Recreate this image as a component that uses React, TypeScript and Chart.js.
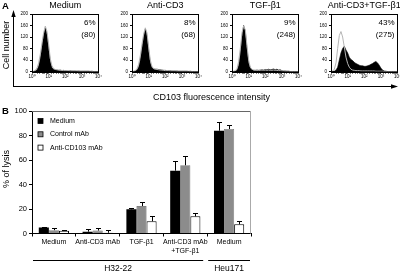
import React, { useEffect, useRef } from "react";
import { Chart, registerables } from "chart.js";
Chart.register(...registerables);

const FONT = '"Liberation Sans", Arial, Helvetica, sans-serif';

// ---------- Panel A: flow cytometry histograms ----------
const histBins = [
  1, 1.26, 1.58, 2, 2.51, 3.16, 3.98, 5.01, 6.31, 7.94,
  10, 12.6, 15.8, 20, 25.1, 31.6, 39.8, 50.1, 63.1, 79.4,
  100, 126, 158, 200, 251, 316, 398, 501, 631, 794,
  1000, 1259, 1585, 1995, 2512, 3162, 3981, 5012, 6310, 7943,
  10000,
];
const histTitles = ["Medium", "Anti-CD3", "TGF-β1", "Anti-CD3+TGF-β1"];
const histPercents = ["6%", "8%", "9%", "43%"];
const histMfi = ["(80)", "(68)", "(248)", "(275)"];

const stainMedium = [0, 0, 2, 6, 18, 45, 85, 125, 152, 130, 80, 35, 14, 8, 6, 5, 4, 5, 3, 4, 3, 3, 2, 3, 2, 2, 2, 1, 2, 1, 1, 1, 1, 1, 1, 0, 1, 0, 0, 0, 0];
const ctrlMedium = [0, 1, 4, 12, 30, 60, 100, 135, 158, 140, 95, 45, 20, 10, 7, 6, 5, 4, 4, 3, 3, 3, 3, 2, 2, 2, 2, 2, 1, 1, 1, 1, 1, 1, 1, 1, 0, 0, 0, 0, 0];
const stainAntiCD3 = [0, 0, 1, 5, 15, 40, 80, 120, 148, 125, 75, 30, 14, 9, 8, 8, 7, 6, 5, 4, 4, 3, 3, 3, 2, 2, 2, 2, 1, 1, 1, 1, 1, 1, 0, 1, 0, 0, 0, 0, 0];
const ctrlAntiCD3 = [0, 1, 3, 10, 25, 55, 95, 130, 152, 135, 85, 40, 18, 10, 8, 7, 6, 5, 5, 4, 3, 3, 3, 2, 2, 2, 2, 1, 1, 1, 1, 1, 1, 1, 1, 0, 0, 0, 0, 0, 0];
const stainTGF = [0, 0, 0, 4, 20, 60, 120, 160, 140, 80, 30, 12, 6, 4, 4, 5, 4, 5, 6, 5, 7, 6, 8, 6, 7, 9, 6, 8, 5, 6, 3, 2, 2, 1, 1, 0, 0, 0, 0, 0, 0];
const ctrlTGF = [0, 1, 3, 10, 35, 80, 135, 158, 145, 90, 40, 15, 8, 5, 4, 4, 4, 4, 5, 4, 5, 4, 5, 4, 4, 5, 4, 4, 3, 3, 2, 2, 1, 1, 1, 0, 0, 0, 0, 0, 0];
const stainCD3TGF = [0, 0, 1, 5, 15, 40, 65, 80, 88, 75, 65, 50, 42, 38, 32, 28, 25, 22, 20, 20, 18, 18, 20, 22, 25, 28, 32, 35, 30, 22, 12, 5, 2, 1, 0, 0, 0, 0, 0, 0, 0];
const ctrlCD3TGF = [0, 2, 8, 30, 80, 125, 139, 120, 85, 50, 28, 15, 8, 5, 4, 3, 3, 3, 2, 2, 2, 2, 2, 2, 2, 2, 2, 1, 1, 1, 1, 1, 0, 0, 0, 0, 0, 0, 0, 0, 0];

const histStain = [stainMedium, stainAntiCD3, stainTGF, stainCD3TGF];
const histCtrl = [ctrlMedium, ctrlAntiCD3, ctrlTGF, ctrlCD3TGF];
const histLefts = [16, 116, 216, 315];

// ---------- Panel B: % of lysis ----------
const lysisCategories = [["Medium"], ["Anti-CD3 mAb"], ["TGF-β1"], ["Anti-CD3 mAb", "+TGF-β1"], ["Medium"]];
const seriesNames = ["Medium", "Control mAb", "Anti-CD103 mAb"];
const lysisMedium = [4.8, 1.5, 19.7, 51.3, 83.9];
const lysisMediumErr = [0.5, 2.5, 1.2, 8.1, 7.1];
const lysisControl = [2.7, 2.4, 22.4, 55.7, 85.3];
const lysisControlErr = [1.5, 1.8, 3.3, 7.6, 3.0];
const lysisAnti = [2.2, 0.6, 10.0, 14.0, 7.5];
const lysisAntiErr = [0.8, 2.0, 4.0, 2.7, 2.7];
const yTicks = [0, 20, 40, 60, 80, 100];
const cellLineNames = ["H32-22", "Heu171"];
const cellLineSpans = [[0, 3], [4, 4]];

const SUP: Record<string, string> = { "0": "⁰", "1": "¹", "2": "²", "3": "³", "4": "⁴" };

function makeHist(canvas: HTMLCanvasElement, idx: number) {
  const histPlugin = {
    id: "histDecor" + idx,
    afterDraw(chart: any) {
      const { ctx, chartArea } = chart;
      ctx.save();
      ctx.strokeStyle = "#000";
      ctx.lineWidth = 1;
      ctx.strokeRect(Math.round(chartArea.left) + 0.5, Math.round(chartArea.top) + 0.5,
        Math.round(chartArea.right - chartArea.left) - 1, Math.round(chartArea.bottom - chartArea.top));
      ctx.fillStyle = "#000";
      ctx.textBaseline = "middle";
      ctx.textAlign = "center";
      ctx.font = `9px ${FONT}`;
      ctx.fillText(histTitles[idx], (chartArea.left + chartArea.right) / 2, 5.5);
      ctx.textAlign = "right";
      ctx.font = `8px ${FONT}`;
      ctx.fillText(histPercents[idx], chartArea.right - 3, chartArea.top + 8.5);
      ctx.fillText(histMfi[idx], chartArea.right - 3, chartArea.top + 20.5);
      ctx.restore();
    },
  };
  return new Chart(canvas, {
    type: "line",
    data: {
      datasets: [
        {
          label: "control",
          data: histBins.map((b, i) => ({ x: b, y: histCtrl[idx][i] })),
          borderColor: "#b5b5b5",
          borderWidth: 1,
          fill: false,
          pointRadius: 0,
          tension: 0,
          order: 0,
        },
        {
          label: "CD103",
          data: histBins.map((b, i) => ({ x: b, y: histStain[idx][i] })),
          borderColor: "#000",
          backgroundColor: "#000",
          borderWidth: 0.6,
          fill: "origin",
          pointRadius: 0,
          tension: 0,
          order: 1,
        },
      ],
    },
    options: {
      animation: false,
      responsive: false,
      events: [],
      layout: { padding: { top: 14, right: 4, left: 0, bottom: 0 } },
      plugins: { legend: { display: false }, tooltip: { enabled: false } },
      scales: {
        x: {
          type: "logarithmic",
          min: 1,
          max: 10000,
          afterFit: (s: any) => { s.height = 14.5; },
          grid: { drawOnChartArea: false, tickLength: 2, color: "#000" },
          border: { color: "#000", width: 1 },
          ticks: {
            autoSkip: false,
            maxRotation: 0,
            padding: 1,
            color: "#000",
            font: { size: 4.5, family: FONT },
            callback: (v: any) => {
              const l = Math.log10(Number(v));
              if (Math.abs(l - Math.round(l)) < 1e-6) return "10" + SUP[String(Math.round(l))];
              return "";
            },
          },
        },
        y: {
          min: 0,
          max: 200,
          afterFit: (s: any) => { s.width = 16; },
          grid: { drawOnChartArea: false, tickLength: 2, color: "#000" },
          border: { color: "#000", width: 1 },
          ticks: { stepSize: 40, padding: 2, color: "#000", font: { size: 4.5, family: FONT } },
        },
      },
    },
    plugins: [histPlugin],
  } as any);
}

function makeBar(canvas: HTMLCanvasElement) {
  const decor = {
    id: "barDecor",
    afterDatasetsDraw(chart: any) {
      const { ctx } = chart;
      const y = chart.scales.y;
      ctx.save();
      ctx.strokeStyle = "#000";
      ctx.lineWidth = 1;
      chart.data.datasets.forEach((ds: any, di: number) => {
        const meta = chart.getDatasetMeta(di);
        meta.data.forEach((bar: any, i: number) => {
          const v = ds.data[i];
          const e = ds.errors[i];
          const yb = y.getPixelForValue(v);
          const yt = Math.round(y.getPixelForValue(v + e)) + 0.5;
          const x = Math.round(bar.x) + 0.5;
          ctx.beginPath();
          ctx.moveTo(x, yb);
          ctx.lineTo(x, yt);
          ctx.moveTo(x - 2.5, yt);
          ctx.lineTo(x + 2.5, yt);
          ctx.stroke();
        });
      });
      ctx.restore();
    },
    afterDraw(chart: any) {
      const { ctx, chartArea } = chart;
      ctx.save();
      // frame top and right
      ctx.lineWidth = 1;
      ctx.strokeStyle = "#666";
      ctx.beginPath();
      ctx.moveTo(chartArea.left, Math.round(chartArea.top) + 0.5);
      ctx.lineTo(chartArea.right, Math.round(chartArea.top) + 0.5);
      ctx.stroke();
      ctx.strokeStyle = "#aaa";
      ctx.beginPath();
      ctx.moveTo(Math.round(chartArea.right) - 0.5, chartArea.top);
      ctx.lineTo(Math.round(chartArea.right) - 0.5, chartArea.bottom);
      ctx.stroke();
      // legend
      chart.data.datasets.forEach((ds: any, i: number) => {
        const lx = chartArea.left + 6;
        const ly = chartArea.top + 10 + i * 13.3;
        ctx.fillStyle = ds.backgroundColor;
        ctx.fillRect(lx, ly - 2.5, 5, 5);
        ctx.strokeStyle = "#000";
        ctx.lineWidth = 0.8;
        ctx.strokeRect(lx, ly - 2.5, 5, 5);
        ctx.fillStyle = "#000";
        ctx.font = `7px ${FONT}`;
        ctx.textBaseline = "middle";
        ctx.textAlign = "left";
        ctx.fillText(ds.label, lx + 12, ly);
      });
      // cell line groups
      const xs = chart.scales.x;
      const n = chart.data.labels.length;
      const w = (xs.right - xs.left) / n;
      cellLineNames.forEach((name, g) => {
        const [a, b] = cellLineSpans[g];
        const x0 = xs.left + a * w + 1;
        const x1 = xs.left + (b + 1) * w - (g < cellLineNames.length - 1 ? 4 : 1);
        const ly = Math.round(chartArea.bottom + 26.5) + 0.5;
        ctx.strokeStyle = "#000";
        ctx.lineWidth = 1;
        ctx.beginPath();
        ctx.moveTo(x0, ly);
        ctx.lineTo(x1, ly);
        ctx.stroke();
        ctx.fillStyle = "#000";
        ctx.font = `8.5px ${FONT}`;
        ctx.textAlign = "center";
        ctx.textBaseline = "middle";
        ctx.fillText(name, (x0 + x1) / 2, chartArea.bottom + 35);
      });
      ctx.restore();
    },
  };
  return new Chart(canvas, {
    type: "bar",
    data: {
      labels: lysisCategories,
      datasets: [
        { label: seriesNames[0], data: lysisMedium, errors: lysisMediumErr, backgroundColor: "#000", borderColor: "#000", borderWidth: 0 },
        { label: seriesNames[1], data: lysisControl, errors: lysisControlErr, backgroundColor: "#8c8c8c", borderColor: "#555", borderWidth: 0.6 },
        { label: seriesNames[2], data: lysisAnti, errors: lysisAntiErr, backgroundColor: "#fff", borderColor: "#000", borderWidth: 1 },
      ],
    },
    options: {
      animation: false,
      responsive: false,
      events: [],
      layout: { padding: { top: 11, right: 9, left: 0, bottom: 0 } },
      plugins: { legend: { display: false }, tooltip: { enabled: false } },
      datasets: { bar: { categoryPercentage: 0.69, barPercentage: 1.0 } },
      scales: {
        x: {
          afterFit: (s: any) => { s.height = 38.5; },
          grid: { drawOnChartArea: false, offset: true, tickLength: 3, color: "#000" },
          border: { color: "#000", width: 1 },
          ticks: { autoSkip: false, maxRotation: 0, padding: 2, color: "#000", font: { size: 7, family: FONT, lineHeight: 1.15 } },
        },
        y: {
          min: 0,
          max: 100,
          afterFit: (s: any) => { s.width = 32; },
          afterBuildTicks: (s: any) => { s.ticks = yTicks.map((v) => ({ value: v })); },
          grid: { drawOnChartArea: false, tickLength: 3, color: "#000" },
          border: { color: "#000", width: 1 },
          ticks: { padding: 2, color: "#000", font: { size: 7.5, family: FONT } },
        },
      },
    },
    plugins: [decor],
  } as any);
}

export default function App() {
  const h0 = useRef<HTMLCanvasElement>(null);
  const h1 = useRef<HTMLCanvasElement>(null);
  const h2 = useRef<HTMLCanvasElement>(null);
  const h3 = useRef<HTMLCanvasElement>(null);
  const barRef = useRef<HTMLCanvasElement>(null);
  const histRefs = [h0, h1, h2, h3];

  useEffect(() => {
    const charts: Chart[] = [];
    histRefs.forEach((r, i) => { if (r.current) charts.push(makeHist(r.current, i)); });
    if (barRef.current) charts.push(makeBar(barRef.current));
    return () => charts.forEach((c) => c.destroy());
  }, []);

  const txt = (extra: React.CSSProperties): React.CSSProperties => ({
    position: "absolute",
    fontFamily: FONT,
    color: "#000",
    whiteSpace: "nowrap",
    lineHeight: 1,
    ...extra,
  });

  return (
    <div style={{ position: "absolute", left: 0, top: 0, width: 400, height: 272, background: "#fff", overflow: "hidden" }}>
      {histRefs.map((r, i) => (
        <canvas key={i} ref={r} width={87} height={86}
          style={{ position: "absolute", left: histLefts[i], top: 0, width: 87, height: 86 }} />
      ))}
      <canvas ref={barRef} width={260} height={172}
        style={{ position: "absolute", left: 0, top: 100, width: 260, height: 172 }} />
      <svg width={400} height={272} style={{ position: "absolute", left: 0, top: 0, pointerEvents: "none" }}>
        <line x1={13.5} y1={14} x2={13.5} y2={87} stroke="#000" strokeWidth={1} />
        <polygon points="13.5,10 11.3,17 15.7,17" fill="#000" />
        <line x1={13} y1={86.5} x2={392} y2={86.5} stroke="#000" strokeWidth={1} />
        <polygon points="398,86.5 391,84.3 391,88.7" fill="#000" />
      </svg>
      <div style={txt({ left: 2, top: 1, fontSize: 9.5, fontWeight: "bold" })}>A</div>
      <div style={txt({ left: 2, top: 106, fontSize: 9.5, fontWeight: "bold" })}>B</div>
      <div style={txt({ left: 6, top: 45, fontSize: 9, transform: "translate(-50%, -50%) rotate(-90deg)" })}>Cell number</div>
      <div style={txt({ left: 211.5, top: 97, fontSize: 9, transform: "translate(-50%, -50%)" })}>CD103 fluorescence intensity</div>
      <div style={txt({ left: 6, top: 169, fontSize: 9, transform: "translate(-50%, -50%) rotate(-90deg)" })}>% of lysis</div>
    </div>
  );
}
